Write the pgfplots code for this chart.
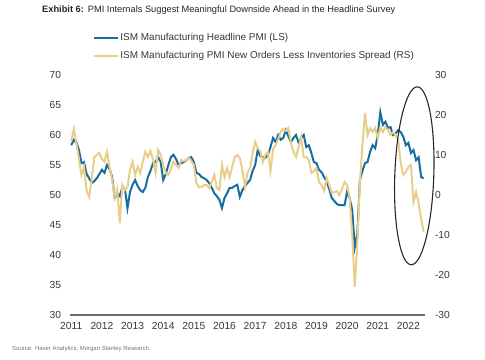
\documentclass[border=0pt]{standalone}
\usepackage{fontspec}
\setmainfont{Liberation Sans}
\usepackage{pgfplots}
\usepackage{pgfplotstable}
\pgfplotsset{compat=1.18}
\usetikzlibrary{shapes.geometric}
\definecolor{pmiblue}{RGB}{22,110,160}
\definecolor{spreadtan}{RGB}{232,206,138}
\definecolor{txt}{RGB}{55,55,55}
\definecolor{axisgray}{RGB}{110,110,110}

\pgfplotstableread{
m blue spread
0 58.3 13.5
1 59.2 16.5
2 58.8 13.0
3 57.5 9.0
4 55.3 5.0
5 55.5 7.0
6 53.5 1.0
7 52.8 -0.5
8 52.0 4.0
9 52.3 9.5
10 52.8 10.0
11 53.5 10.5
12 54.2 9.0
13 53.7 8.3
14 55.0 10.8
15 54.3 7.0
16 53.0 3.75
17 49.5 -0.5
18 50.3 1.5
19 49.8 -7.0
20 51.3 2.5
21 51.0 1.25
22 47.8 2.0
23 50.5 6.25
24 51.7 8.3
25 52.5 5.0
26 51.5 7.0
27 50.8 5.5
28 50.5 8.3
29 51.2 10.8
30 53.0 9.5
31 54.0 11.0
32 55.3 9.0
33 55.5 5.5
34 56.3 11.25
35 55.5 10.0
36 52.5 7.5
37 53.5 5.5
38 55.0 5.0
39 56.3 6.5
40 56.7 8.3
41 56.0 7.5
42 55.0 6.75
43 55.3 8.75
44 55.5 8.5
45 55.8 8.75
46 56.2 9.25
47 56.3 8.5
48 55.5 7.5
49 53.7 3.0
50 53.5 2.0
51 53.0 2.0
52 52.8 2.5
53 52.5 2.5
54 52.0 1.75
55 51.2 3.25
56 50.3 5.0
57 49.8 1.75
58 49.2 1.25
59 47.8 7.5
60 49.5 4.5
61 50.3 6.75
62 51.2 4.5
63 51.2 7.0
64 51.5 9.5
65 51.7 10.0
66 49.7 9.25
67 50.8 6.25
68 51.5 2.0
69 52.0 5.5
70 52.5 6.75
71 54.0 10.5
72 55.0 13.25
73 57.5 11.75
74 56.5 11.0
75 56.3 8.25
76 56.2 10.0
77 56.7 10.75
78 58.0 6.0
79 59.5 11.5
80 58.8 12.5
81 60.0 14.0
82 59.2 15.75
83 59.5 16.5
84 60.8 16.0
85 59.8 16.75
86 58.8 13.0
87 59.5 10.75
88 60.0 9.5
89 58.7 12.0
90 59.5 14.5
91 60.0 9.5
92 58.0 9.5
93 58.3 8.75
94 57.0 5.5
95 55.5 6.0
96 55.3 6.75
97 54.2 3.25
98 53.8 2.5
99 53.0 1.0
100 52.2 4.25
101 51.0 2.5
102 49.5 0.5
103 49.0 0.75
104 48.5 1.0
105 48.3 0.0
106 48.3 1.5
107 48.3 3.25
108 50.5 2.5
109 49.5 -0.75
110 47.5 -10.0
111 41.3 -23.0
112 43.5 -12.0
113 52.5 3.0
114 54.0 12.5
115 55.3 20.5
116 55.5 15.0
117 57.2 16.75
118 58.3 15.75
119 57.8 16.75
120 60.0 14.25
121 63.8 16.75
122 61.7 15.75
123 62.2 17.0
124 61.2 16.25
125 61.3 15.0
126 60.0 15.75
127 60.3 15.0
128 60.8 13.75
129 60.5 8.0
130 59.7 5.0
131 58.3 5.75
132 58.7 7.0
133 57.0 7.5
134 57.5 -1.75
135 55.8 0.75
136 56.3 -2.0
137 53.0 -6.0
138 52.8 -9.25
}\data

\begin{document}
\begin{tikzpicture}
\useasboundingbox (0,0) rectangle (485bp,360bp);
\begin{axis}[
  at={(70bp,45bp)}, anchor=south west,
  scale only axis, width=355bp, height=240bp,
  xmin=-0.5, xmax=138.5, ymin=30, ymax=70,
  xtick={0,12,24,36,48,60,72,84,96,108,120,132},
  xticklabels={2011,2012,2013,2014,2015,2016,2017,2018,2019,2020,2021,2022},
  ytick={30,35,40,45,50,55,60,65,70},
  axis x line*=bottom, axis y line*=left,
  x axis line style={-, draw=axisgray, line width=1.5bp},
  y axis line style={draw=none},
  major tick length=0pt,
  tick label style={font=\fontsize{10.3}{12}\selectfont, text=txt},
  /pgf/number format/assume math mode=true,
  xticklabel style={yshift=-4bp},
  yticklabel style={xshift=-5.5bp},
  clip=false,
]
\addplot[pmiblue, line width=2bp] table[x=m, y=blue]{\data};
\end{axis}
\begin{axis}[
  at={(70bp,45bp)}, anchor=south west,
  scale only axis, width=355bp, height=240bp,
  xmin=-0.5, xmax=138.5, ymin=-30, ymax=30,
  ytick={-30,-20,-10,0,10,20,30},
  axis x line=none, axis y line*=right,
  y axis line style={draw=none},
  major tick length=0pt,
  tick label style={font=\fontsize{10.3}{12}\selectfont, text=txt},
  /pgf/number format/assume math mode=true,
  yticklabel style={xshift=6.5bp},
  clip=false,
  legend style={at={(0.065,1.177)}, anchor=north west, draw=none, fill=none,
    font=\fontsize{10}{12}\selectfont, text=txt, row sep=7bp, inner sep=0pt,
    nodes={inner xsep=1bp, inner ysep=1bp}},
  legend cell align=left,
  legend image code/.code={\draw[#1] (0bp,0bp) -- (24bp,0bp);},
]
\addlegendimage{pmiblue, line width=2.2bp}
\addlegendentry{ISM Manufacturing Headline PMI (LS)}
\addplot[spreadtan, line width=2bp] table[x=m, y=spread]{\data};
\addlegendentry{ISM Manufacturing PMI New Orders Less Inventories Spread (RS)}
\node[draw=black!85, line width=1.1bp, ellipse, minimum width=39bp, minimum height=178bp, inner sep=0pt, rotate=-2] at (axis cs:134.3,4.8) {};
\end{axis}
\node[anchor=west, inner sep=0pt, font=\fontsize{9.3}{11}\selectfont, text=black!85] at (42bp,350bp) {\textbf{Exhibit 6:}\hspace{4bp}PMI Internals Suggest Meaningful Downside Ahead in the Headline Survey};
\node[anchor=west, inner sep=0pt, font=\fontsize{6}{7}\selectfont, text=black!55] at (12bp,11bp) {Source: Haver Analytics, Morgan Stanley Research.};
\end{tikzpicture}
\end{document}
